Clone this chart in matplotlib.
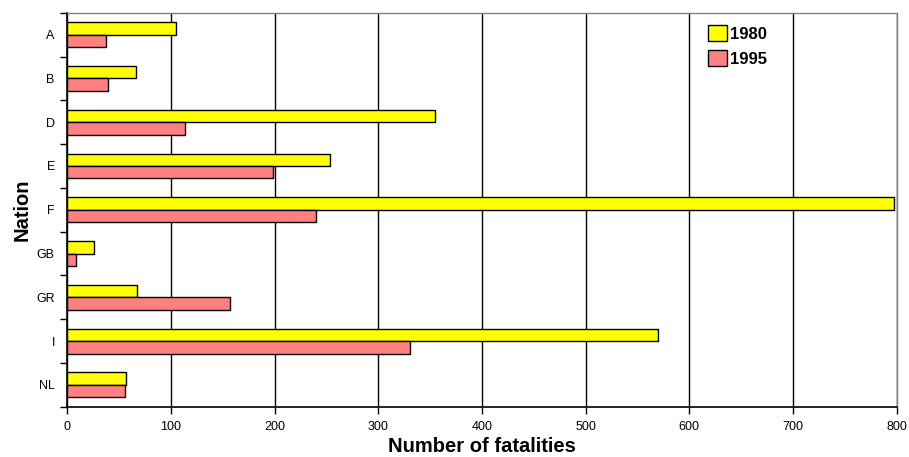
import numpy as np
import matplotlib
matplotlib.use("Agg")
import matplotlib.pyplot as plt

plt.rcParams['font.family'] = ['Liberation Sans', 'DejaVu Sans']

nations = ["A", "B", "D", "E", "F", "GB", "GR", "I", "NL"]
fatal_1980 = [105, 66, 355, 253, 797, 26, 67, 570, 57]
fatal_1995 = [37, 39, 114, 198, 240, 8, 157, 331, 56]

fig = plt.figure(figsize=(9.09, 4.57), dpi=100)
ax = fig.add_axes([0.074, 0.110, 0.9125, 0.862])

y = np.arange(len(nations))
h = 0.285
ax.barh(y - h / 2, fatal_1980, height=h, color="#ffff00", edgecolor="black",
        linewidth=1.0, label="1980", zorder=3)
ax.barh(y + h / 2, fatal_1995, height=h, color="#ff8080", edgecolor="black",
        linewidth=1.0, label="1995", zorder=3)

ax.set_xlim(0, 800)
ax.set_ylim(len(nations) - 0.5, -0.5)
ax.set_xticks(np.arange(0, 801, 100))
ax.set_yticks(y)
ax.set_yticklabels(nations)
ax.set_yticks(np.arange(-0.5, len(nations), 1), minor=True)
ax.tick_params(axis="y", which="major", length=0, pad=9, labelsize=9)
ax.tick_params(axis="y", which="minor", length=5, width=1, direction="out")
ax.tick_params(axis="x", which="major", length=5, width=1, direction="out",
               labelsize=9, pad=5)

ax.grid(axis="x", color="black", linewidth=1, zorder=0)
for s in ["left", "bottom"]:
    ax.spines[s].set_color("black")
    ax.spines[s].set_linewidth(1.2)
for s in ["top", "right"]:
    ax.spines[s].set_color("#808080")
    ax.spines[s].set_linewidth(1.0)

ax.set_xlabel("Number of fatalities", fontsize=14.5, fontweight="bold", labelpad=3)
ax.set_ylabel("Nation", fontsize=14.5, fontweight="bold", labelpad=3)

leg = ax.legend(loc="upper left", bbox_to_anchor=(0.7725, 0.969), frameon=False,
                prop={"size": 12, "weight": "bold"}, handlelength=1.12,
                handleheight=1.12, handletextpad=0.2, labelspacing=0.5,
                borderaxespad=0, borderpad=0)

fig.savefig("out.png", dpi=100)
